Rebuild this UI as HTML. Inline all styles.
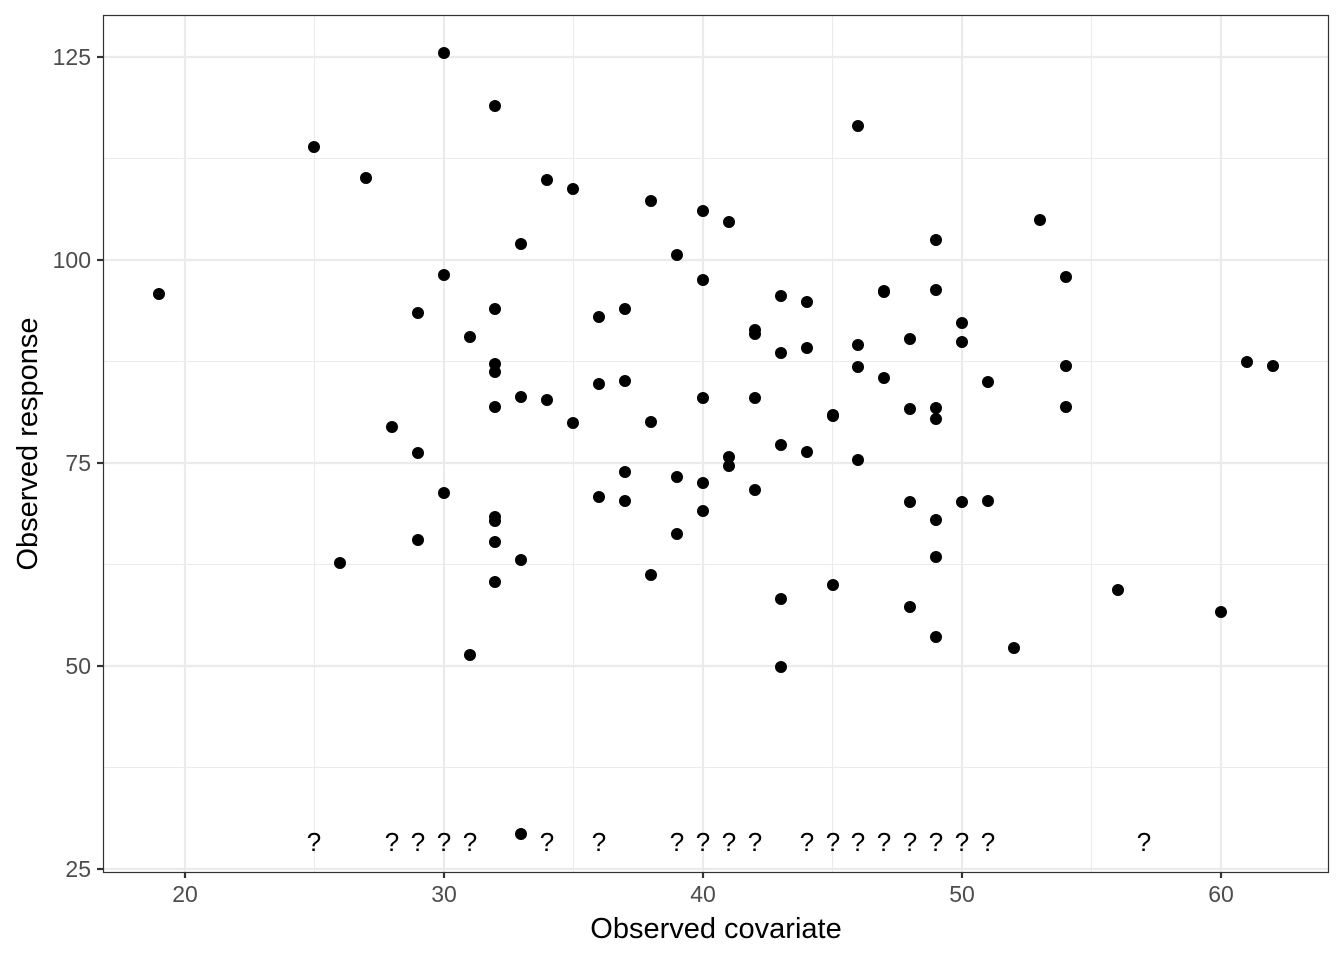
<!DOCTYPE html>
<html><head><meta charset="utf-8"><style>html,body{margin:0;padding:0;background:#fff}svg{display:block}</style></head>
<body>
<svg width="1344" height="960" xmlns="http://www.w3.org/2000/svg" font-family="Liberation Sans, sans-serif">
<rect width="1344" height="960" fill="#fff"/>
<g stroke="#ebebeb" stroke-width="1.1">
<line x1="314.5" y1="16" x2="314.5" y2="872"/><line x1="573.5" y1="16" x2="573.5" y2="872"/><line x1="832.5" y1="16" x2="832.5" y2="872"/><line x1="1091.5" y1="16" x2="1091.5" y2="872"/>
<line x1="104" y1="158.5" x2="1328" y2="158.5"/><line x1="104" y1="361.5" x2="1328" y2="361.5"/><line x1="104" y1="564.5" x2="1328" y2="564.5"/><line x1="104" y1="767.5" x2="1328" y2="767.5"/>
</g>
<g stroke="#ebebeb" stroke-width="2.2">
<line x1="185" y1="16" x2="185" y2="872"/><line x1="444" y1="16" x2="444" y2="872"/><line x1="703" y1="16" x2="703" y2="872"/><line x1="962" y1="16" x2="962" y2="872"/><line x1="1221" y1="16" x2="1221" y2="872"/>
<line x1="104" y1="57" x2="1328" y2="57"/><line x1="104" y1="260" x2="1328" y2="260"/><line x1="104" y1="463" x2="1328" y2="463"/><line x1="104" y1="666" x2="1328" y2="666"/><line x1="104" y1="869" x2="1328" y2="869"/>
</g>
<g fill="#000">
<circle cx="159" cy="294" r="6"/><circle cx="314" cy="147" r="6"/><circle cx="366" cy="178" r="6"/><circle cx="444" cy="53" r="6"/><circle cx="495" cy="106" r="6"/><circle cx="340" cy="563" r="6"/><circle cx="392" cy="427" r="6"/><circle cx="418" cy="313" r="6"/><circle cx="418" cy="453" r="6"/><circle cx="418" cy="540" r="6"/><circle cx="444" cy="275" r="6"/><circle cx="444" cy="493" r="6"/><circle cx="470" cy="337" r="6"/><circle cx="470" cy="655" r="6"/><circle cx="495" cy="309" r="6"/><circle cx="495" cy="364" r="6"/><circle cx="495" cy="372" r="6"/><circle cx="495" cy="407" r="6"/><circle cx="495" cy="517" r="6"/><circle cx="495" cy="521" r="6"/><circle cx="495" cy="542" r="6"/><circle cx="495" cy="582" r="6"/><circle cx="521" cy="244" r="6"/><circle cx="521" cy="397" r="6"/><circle cx="521" cy="560" r="6"/><circle cx="547" cy="180" r="6"/><circle cx="547" cy="400" r="6"/><circle cx="573" cy="189" r="6"/><circle cx="573" cy="423" r="6"/><circle cx="599" cy="317" r="6"/><circle cx="599" cy="384" r="6"/><circle cx="599" cy="497" r="6"/><circle cx="625" cy="309" r="6"/><circle cx="625" cy="381" r="6"/><circle cx="625" cy="472" r="6"/><circle cx="625" cy="501" r="6"/><circle cx="651" cy="201" r="6"/><circle cx="651" cy="422" r="6"/><circle cx="651" cy="575" r="6"/><circle cx="677" cy="255" r="6"/><circle cx="677" cy="477" r="6"/><circle cx="677" cy="534" r="6"/><circle cx="703" cy="211" r="6"/><circle cx="703" cy="280" r="6"/><circle cx="703" cy="398" r="6"/><circle cx="703" cy="483" r="6"/><circle cx="703" cy="511" r="6"/><circle cx="729" cy="222" r="6"/><circle cx="729" cy="457" r="6"/><circle cx="729" cy="466" r="6"/><circle cx="755" cy="330" r="6"/><circle cx="755" cy="334" r="6"/><circle cx="755" cy="398" r="6"/><circle cx="755" cy="490" r="6"/><circle cx="781" cy="296" r="6"/><circle cx="781" cy="353" r="6"/><circle cx="781" cy="445" r="6"/><circle cx="781" cy="599" r="6"/><circle cx="781" cy="667" r="6"/><circle cx="807" cy="302" r="6"/><circle cx="807" cy="348" r="6"/><circle cx="807" cy="452" r="6"/><circle cx="833" cy="415" r="6"/><circle cx="833" cy="416" r="6"/><circle cx="833" cy="585" r="6"/><circle cx="858" cy="126" r="6"/><circle cx="858" cy="345" r="6"/><circle cx="858" cy="367" r="6"/><circle cx="858" cy="460" r="6"/><circle cx="884" cy="291" r="6"/><circle cx="884" cy="292" r="6"/><circle cx="884" cy="378" r="6"/><circle cx="910" cy="339" r="6"/><circle cx="910" cy="409" r="6"/><circle cx="910" cy="502" r="6"/><circle cx="910" cy="607" r="6"/><circle cx="936" cy="240" r="6"/><circle cx="936" cy="290" r="6"/><circle cx="936" cy="408" r="6"/><circle cx="936" cy="419" r="6"/><circle cx="936" cy="520" r="6"/><circle cx="936" cy="557" r="6"/><circle cx="936" cy="637" r="6"/><circle cx="962" cy="323" r="6"/><circle cx="962" cy="342" r="6"/><circle cx="962" cy="502" r="6"/><circle cx="988" cy="382" r="6"/><circle cx="988" cy="501" r="6"/><circle cx="1014" cy="648" r="6"/><circle cx="1040" cy="220" r="6"/><circle cx="1066" cy="277" r="6"/><circle cx="1066" cy="366" r="6"/><circle cx="1066" cy="407" r="6"/><circle cx="1118" cy="590" r="6"/><circle cx="1221" cy="612" r="6"/><circle cx="1247" cy="362" r="6"/><circle cx="1273" cy="366" r="6"/><circle cx="521" cy="834" r="6"/>
</g>
<g font-size="26" text-anchor="middle" fill="#000">
<text x="314" y="851">?</text><text x="392" y="851">?</text><text x="418" y="851">?</text><text x="444" y="851">?</text><text x="470" y="851">?</text><text x="547" y="851">?</text><text x="599" y="851">?</text><text x="677" y="851">?</text><text x="703" y="851">?</text><text x="729" y="851">?</text><text x="755" y="851">?</text><text x="807" y="851">?</text><text x="833" y="851">?</text><text x="858" y="851">?</text><text x="884" y="851">?</text><text x="910" y="851">?</text><text x="936" y="851">?</text><text x="962" y="851">?</text><text x="988" y="851">?</text><text x="1144" y="851">?</text>
</g>
<rect x="103.5" y="15.5" width="1225" height="857" fill="none" stroke="#333" stroke-width="1.2"/>
<g stroke="#333" stroke-width="2.2">
<line x1="185" y1="873" x2="185" y2="878"/><line x1="444" y1="873" x2="444" y2="878"/><line x1="703" y1="873" x2="703" y2="878"/><line x1="962" y1="873" x2="962" y2="878"/><line x1="1221" y1="873" x2="1221" y2="878"/>
<line x1="97" y1="57" x2="103" y2="57"/><line x1="97" y1="260" x2="103" y2="260"/><line x1="97" y1="463" x2="103" y2="463"/><line x1="97" y1="666" x2="103" y2="666"/><line x1="97" y1="869" x2="103" y2="869"/>
</g>
<g font-size="23" fill="#4d4d4d" text-anchor="middle">
<text x="185" y="902">20</text><text x="444" y="902">30</text><text x="703" y="902">40</text><text x="962" y="902">50</text><text x="1221" y="902">60</text>
</g>
<g font-size="23" fill="#4d4d4d" text-anchor="end">
<text x="91" y="65">125</text><text x="91" y="268">100</text><text x="91" y="471">75</text><text x="91" y="674">50</text><text x="91" y="877">25</text>
</g>
<text x="716" y="938" font-size="29" text-anchor="middle" fill="#000">Observed covariate</text>
<text transform="translate(37,444) rotate(-90)" font-size="29" text-anchor="middle" fill="#000">Observed response</text>
</svg>
</body></html>
